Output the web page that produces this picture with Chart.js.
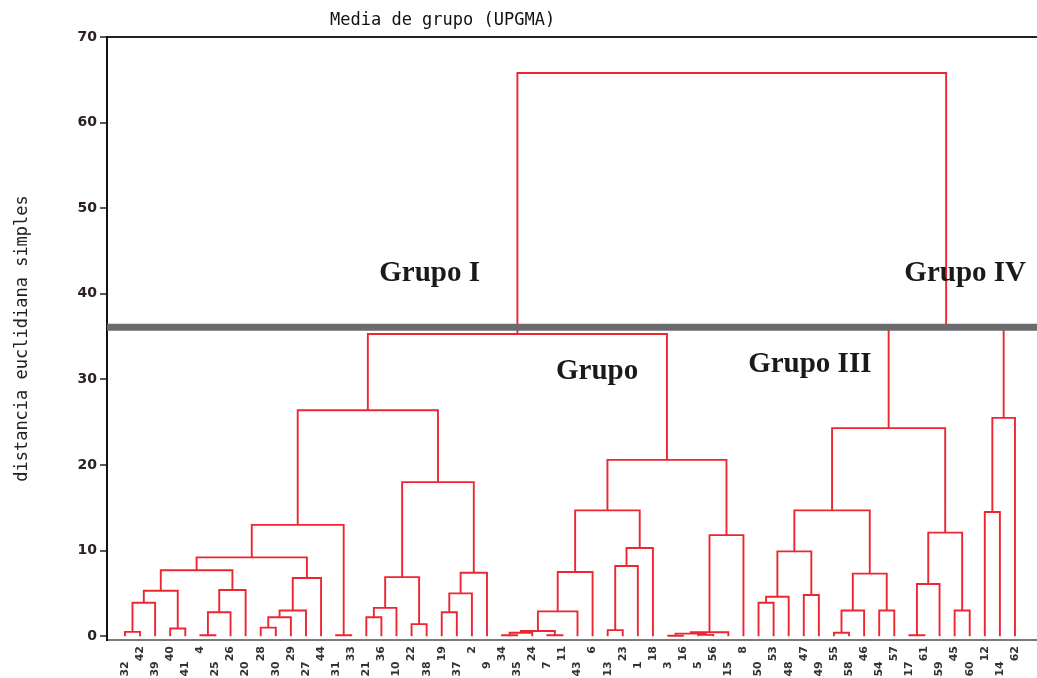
<!DOCTYPE html>
<html>
<head>
<meta charset="utf-8">
<script src="https://cdn.jsdelivr.net/npm/chart.js@4.4.1/dist/chart.umd.min.js"></script>
<style>
  html, body { margin: 0; padding: 0; background: #fff; }
  canvas { display: block; }
</style>
</head>
<body>
<canvas id="dendrograma" width="1037" height="678"></canvas>
<script>
// etiquetas de las hojas, en el orden del eje x
const hojas = ['32','42','39','40','41','4','25','26','20','28','30','29','27','44','31','33','21','36','10','22','38','19','37','2','9',
  '34','35','24','7','11','43','6','13','23','1','18','3','16','5','56','15','8',
  '50','53','48','47','49','55','58','46','54','57','17','61','59','45','60','12','14','62'];

// uniones: ids < 60 son hojas, ids >= 60 son la union (id - 60)
const unionA = [0, 60, 3, 61, 5, 64, 65, 63, 9, 68, 69, 70, 67, 14, 72, 16, 75, 19, 76, 21, 79, 80, 78, 74,
  25, 84, 28, 85, 87, 88, 32, 90, 91, 89, 36, 38, 94, 96, 97, 93, 83,
  42, 101, 45, 102, 47, 105, 50, 106, 104, 52, 110, 55, 111, 109, 57, 115, 114, 100];
const unionB = [1, 2, 4, 62, 6, 7, 8, 66, 10, 11, 12, 13, 71, 15, 73, 17, 18, 20, 77, 22, 23, 24, 81, 82,
  26, 27, 29, 86, 30, 31, 33, 34, 35, 92, 37, 39, 95, 40, 41, 98, 99,
  43, 44, 46, 103, 48, 49, 51, 107, 108, 53, 54, 56, 112, 113, 58, 59, 116, 117];
const alturas = [0.5, 3.9, 0.9, 5.3, 0.1, 2.8, 5.4, 7.7, 1.0, 2.2, 3.0, 6.8, 9.2, 0.1, 13.0, 2.2, 3.3, 1.4, 6.9, 2.8, 5.0, 7.4, 18.0, 26.4,
  0.1, 0.4, 0.1, 0.6, 2.9, 7.5, 0.7, 8.2, 10.3, 14.7, 0.05, 0.15, 0.3, 0.45, 11.8, 20.6, 35.3,
  3.9, 4.6, 4.8, 9.9, 0.4, 3.0, 3.0, 7.3, 14.7, 0.1, 6.1, 3.0, 12.1, 24.3, 14.5, 25.5, 36.2, 65.8];

const corte = 36.1; // linea de corte
const ticksY = [0, 10, 20, 30, 40, 50, 60, 70];

const grupos = ['Grupo I', 'Grupo', 'Grupo III', 'Grupo IV'];
const grupoX = [20.2, 31.3, 45.4, 55.7];
const grupoY = [42.4, 30.9, 31.7, 42.4];

// posicion y altura de cada nodo
const posX = hojas.map((_, i) => i);
const posH = hojas.map(() => 0);
const datasets = [];
alturas.forEach((h, k) => {
  const a = unionA[k], b = unionB[k];
  posX.push((posX[a] + posX[b]) / 2);
  posH.push(h);
  datasets.push({
    data: [{x: posX[a], y: posH[a]}, {x: posX[a], y: h}, {x: posX[b], y: h}, {x: posX[b], y: posH[b]}],
    borderColor: '#ee2632',
    borderWidth: 1.9,
    pointRadius: 0,
    showLine: true,
    fill: false
  });
});

const xMin = -1.19, xMax = 60.46;
datasets.push({
  data: [{x: xMin, y: corte}, {x: xMax, y: corte}],
  borderColor: '#6b6b6e',
  borderWidth: 7,
  pointRadius: 0,
  showLine: true,
  order: -1
});

const rotulos = {
  id: 'rotulos',
  afterDatasetsDraw(chart) {
    const {ctx, chartArea, scales: {x, y}} = chart;
    ctx.save();
    ctx.fillStyle = '#111';
    ctx.textBaseline = 'middle';
    ctx.font = '17px "DejaVu Sans Mono"';
    ctx.fillText('Media de grupo (UPGMA)', chartArea.left + 223, 21);
    ctx.font = 'bold 29px "Liberation Serif"';
    ctx.textAlign = 'center';
    ctx.fillStyle = '#1a1a1a';
    grupos.forEach((g, i) => {
      ctx.fillText(g, x.getPixelForValue(grupoX[i]), y.getPixelForValue(grupoY[i]));
    });
    ctx.restore();
  }
};

new Chart(document.getElementById('dendrograma'), {
  type: 'scatter',
  data: { datasets },
  plugins: [rotulos],
  options: {
    responsive: false,
    animation: false,
    layout: { padding: { top: 37, left: 0, right: 0, bottom: 0 } },
    plugins: { legend: { display: false }, tooltip: { enabled: false } },
    scales: {
      x: {
        type: 'linear',
        min: xMin,
        max: xMax,
        afterBuildTicks: scale => { scale.ticks = hojas.map((_, i) => ({value: i})); },
        afterFit: scale => { scale.height = 38; },
        grid: { display: false, drawTicks: false },
        border: { display: true, color: '#7a7a7a', width: 2 },
        ticks: {
          autoSkip: false,
          minRotation: 90,
          maxRotation: 90,
          padding: 6,
          color: '#333',
          font: { family: 'DejaVu Sans', size: 11, weight: 'bold' },
          callback: v => hojas[v] + (v % 2 === 0 ? '\u2007\u2007' : '')
        }
      },
      y: {
        min: -0.45,
        max: 70,
        afterBuildTicks: scale => { scale.ticks = ticksY.map(v => ({value: v})); },
        afterFit: scale => { scale.width = 107; },
        grid: {
          drawOnChartArea: true,
          color: c => (c.tick && c.tick.value === 70 ? '#222' : 'rgba(0,0,0,0)'),
          lineWidth: 2,
          tickColor: '#222',
          tickLength: 7,
          tickWidth: 1.5
        },
        border: { display: true, color: '#111', width: 2 },
        ticks: {
          padding: 3,
          color: '#2a2222',
          font: { family: 'DejaVu Sans', size: 14, weight: 'bold' }
        },
        title: {
          display: true,
          text: 'distancia euclidiana simples',
          color: '#222',
          padding: { top: 12, bottom: 0 },
          font: { family: 'DejaVu Sans Mono', size: 17 }
        }
      }
    }
  }
});
</script>
</body>
</html>
